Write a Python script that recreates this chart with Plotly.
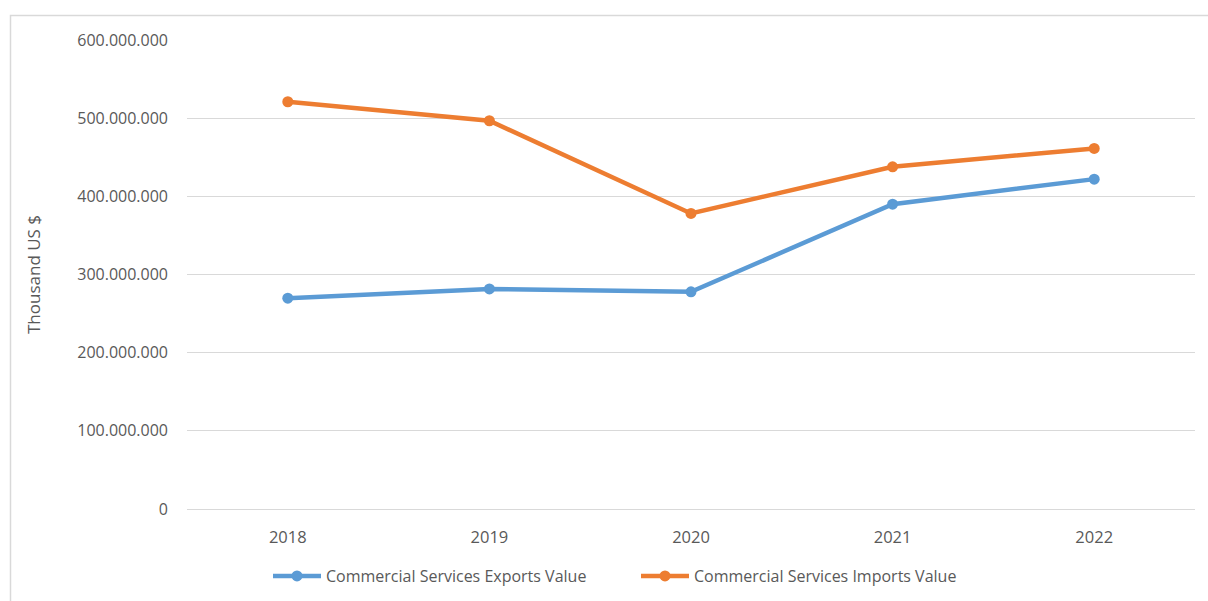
import plotly.graph_objects as go

years = ["2018", "2019", "2020", "2021", "2022"]
exports_value = [269_700_000, 281_600_000, 277_800_000, 390_000_000, 422_000_000]
imports_value = [521_000_000, 496_700_000, 378_100_000, 437_800_000, 461_300_000]
y_ticks = [0, 100_000_000, 200_000_000, 300_000_000, 400_000_000, 500_000_000, 600_000_000]

W, H = 1208, 601
L, R, T, B = 187, 13, 40, 92
pw, ph = W - L - R, H - T - B

fig = go.Figure()
fig.add_trace(go.Scatter(
    x=years, y=exports_value, name="Commercial Services Exports Value",
    mode="lines+markers",
    line=dict(color="#5B9BD5", width=4.5),
    marker=dict(color="#5B9BD5", size=11),
))
fig.add_trace(go.Scatter(
    x=years, y=imports_value, name="Commercial Services Imports Value",
    mode="lines+markers",
    line=dict(color="#ED7D31", width=4.5),
    marker=dict(color="#ED7D31", size=11),
))

# light frame around the chart area, running off the right and bottom edges
fig.add_shape(
    type="rect", xref="paper", yref="paper",
    x0=(10.5 - L) / pw, x1=(W + 20 - L) / pw,
    y0=(H - B - (H + 20)) / ph, y1=(H - B - 15.5) / ph,
    line=dict(color="#D9D9D9", width=1.5), fillcolor="rgba(0,0,0,0)",
    layer="below",
)

fig.update_layout(
    width=W, height=H,
    margin=dict(l=L, r=R, t=T, b=B, autoexpand=False),
    paper_bgcolor="white", plot_bgcolor="white",
    separators=",.",
    font=dict(family="Open Sans", color="#595959", size=15),
    showlegend=True,
    legend=dict(
        orientation="h",
        xref="container", x=268 / W, xanchor="left",
        yref="container", y=1 - 576 / H, yanchor="middle",
        font=dict(family="Open Sans", size=16, color="#595959"),
        itemwidth=48, entrywidth=305, entrywidthmode="pixels",
        tracegroupgap=0,
    ),
    xaxis=dict(
        showgrid=False, zeroline=False, showline=False, ticks="",
        tickfont=dict(size=16.5, color="#595959"),
        ticklabelstandoff=16,
        range=[-0.5, 4.5],
    ),
    yaxis=dict(
        range=[0, 600_000_000], tickvals=y_ticks, tickformat=",d",
        showgrid=True, gridcolor="#D9D9D9", gridwidth=1.3,
        zeroline=True, zerolinecolor="#D9D9D9", zerolinewidth=1.3,
        showline=False, ticks="",
        ticklabelstandoff=18,
        tickfont=dict(size=16, color="#595959"),
        title=dict(text="Thousand US $", font=dict(size=17, color="#595959"), standoff=32),
    ),
)

fig.write_html("out.html")
